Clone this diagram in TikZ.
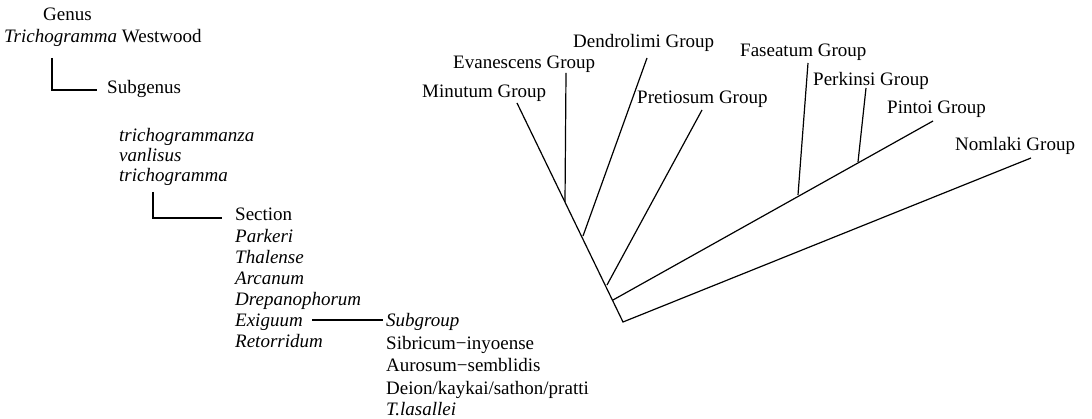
\documentclass[tikz,border=0pt]{standalone}
\usepackage{fontspec}
\setmainfont{Liberation Serif}
\begin{document}
\begin{tikzpicture}[x=1pt,y=-1pt,
  lbl/.style={anchor=base west,inner sep=0pt,font=\fontsize{19}{21}\selectfont},
  edge/.style={line width=1.2pt,line join=miter}]
\useasboundingbox (0,0) rectangle (1092,419);
% left hierarchy
\node[lbl] (genus) at (43,21) {Genus};
\node[lbl] (tw) at (4,43) {\textit{Trichogramma} Westwood};
\node[lbl] (subgenus) at (107,94) {Subgenus};
\node[lbl] (s1) at (119,142) {\textit{trichogrammanza}};
\node[lbl] (s2) at (119,162) {\textit{vanlisus}};
\node[lbl] (s3) at (119,182) {\textit{trichogramma}};
\node[lbl] (section) at (235,221) {Section};
\node[lbl] (c1) at (235,243) {\textit{Parkeri}};
\node[lbl] (c2) at (235,264) {\textit{Thalense}};
\node[lbl] (c3) at (235,285) {\textit{Arcanum}};
\node[lbl] (c4) at (235,306) {\textit{Drepanophorum}};
\node[lbl] (c5) at (235,327) {\textit{Exiguum}};
\node[lbl] (c6) at (235,348) {\textit{Retorridum}};
\node[lbl] (subgroup) at (386,327) {\textit{Subgroup}};
\node[lbl] (g1) at (386,350) {Sibricum−inyoense};
\node[lbl] (g2) at (386,372) {Aurosum−semblidis};
\node[lbl] (g3) at (386,394) {Deion/kaykai/sathon/pratti};
\node[lbl] (g4) at (386,415) {\textit{T.lasallei}};
\coordinate (a1) at (52,58);
\coordinate (a2) at (97,90);
\draw[edge] (a1) |- (a2);
\coordinate (b1) at (153,192);
\coordinate (b2) at (222,218);
\draw[edge] (b1) |- (b2);
\coordinate (e1) at (312,320);
\coordinate (e2) at (383,320);
\draw[edge] (e1) -- (e2);
% tree
\coordinate (root) at (623,322);
\coordinate (n1) at (613,300);
\coordinate (n2) at (607,285);
\coordinate (n3) at (583,236);
\coordinate (n4) at (565,202);
\coordinate (nf) at (798,195);
\coordinate (np) at (858,162);
\coordinate (tMin) at (517,103);
\coordinate (tEva) at (566,73);
\coordinate (tDen) at (647,58);
\coordinate (tPre) at (702,110);
\coordinate (tFas) at (808,63);
\coordinate (tPer) at (866,88);
\coordinate (tPin) at (933,121);
\coordinate (tNom) at (1031,158);
\draw[edge] (tMin) -- (root) -- (tNom);
\draw[edge] (n4) -- (tEva);
\draw[edge] (n3) -- (tDen);
\draw[edge] (n2) -- (tPre);
\draw[edge] (n1) -- (tPin);
\draw[edge] (nf) -- (tFas);
\draw[edge] (np) -- (tPer);
\node[lbl] (lMin) at (422,98) {Minutum Group};
\node[lbl] (lEva) at (453,69) {Evanescens Group};
\node[lbl] (lDen) at (573,48) {Dendrolimi Group};
\node[lbl] (lPre) at (637,104) {Pretiosum Group};
\node[lbl] (lFas) at (740,57) {Faseatum Group};
\node[lbl] (lPer) at (813,86) {Perkinsi Group};
\node[lbl] (lPin) at (887,114) {Pintoi Group};
\node[lbl] (lNom) at (955,151) {Nomlaki Group};
\end{tikzpicture}
\end{document}
